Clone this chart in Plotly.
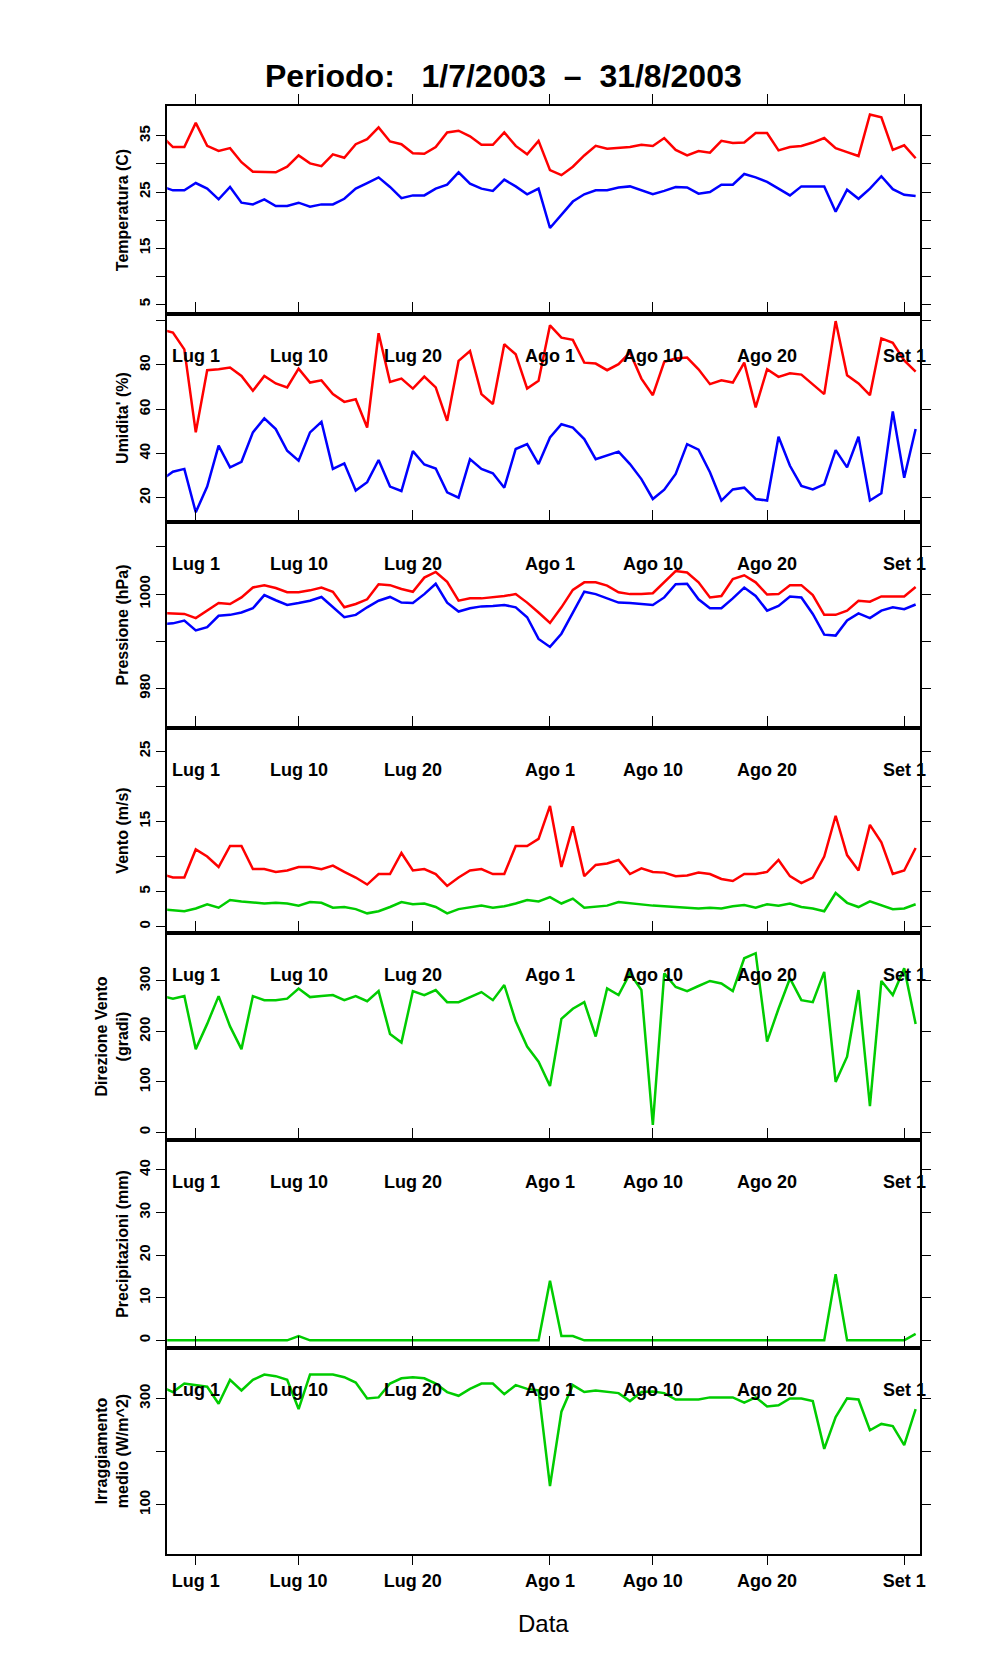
import pandas as pd
import plotly.graph_objects as go

dates = pd.date_range("2003-06-28", "2003-09-02", freq="D")

# temperatura (C): massima e minima
t_max = [35, 33, 33,
         37.3, 33.2, 32.3, 32.8, 30.3, 28.6, 28.5, 28.5, 29.5, 31.5, 30.1, 29.6, 31.7, 31.1, 33.5, 34.4,
         36.5, 34, 33.5, 31.9, 31.8, 33, 35.6, 35.9, 34.9, 33.4, 33.4, 35.6, 33.2, 31.7, 34.1,
         28.9, 28, 29.5, 31.5, 33.2, 32.7, 32.8, 33, 33.4, 33.2, 34.6, 32.5, 31.5, 32.3, 32, 34.1,
         33.7, 33.8, 35.5, 35.5, 32.4, 33, 33.2, 33.8, 34.6, 32.8, 32.1, 31.4, 38.8, 38.3, 32.5,
         33.3, 31]
t_min = [26, 25.3, 25.3,
         26.6, 25.6, 23.7, 25.9, 23.1, 22.8, 23.7, 22.5, 22.5, 23.1, 22.4, 22.8, 22.8, 23.8, 25.6, 26.6,
         27.6, 25.9, 23.9, 24.4, 24.4, 25.6, 26.3, 28.5, 26.5, 25.6, 25.2, 27.2, 26, 24.6, 25.6,
         18.6, 20.9, 23.3, 24.6, 25.3, 25.3, 25.8, 26, 25.3, 24.6, 25.2, 25.9, 25.8, 24.7, 25, 26.3,
         26.3, 28.2, 27.6, 26.8, 25.6, 24.4, 26, 26, 26, 21.5, 25.4, 23.8, 25.6, 27.8, 25.5,
         24.5, 24.3]

# umidita' (%)
h_max = [96, 94.6, 87,
         49.5, 77.6, 78, 78.8, 75, 68.3, 75, 71.6, 69.8, 78.3, 72, 73, 66.8, 63.3, 64.5, 51.7,
         94.3, 72.3, 73.8, 69.3, 74.7, 69.8, 54.7, 81.8, 86.3, 66.8, 62.3, 89.3, 84.8, 69.3, 72.8,
         97.9, 92.3, 91.3, 81, 80.6, 77.6, 80.3, 85.6, 73.8, 66.3, 81.4, 82.9, 83.3, 78, 71.3, 73,
         72, 81, 60.8, 78, 74.6, 76.2, 75.6, 71.3, 66.8, 99.8, 75.3, 71.6, 66.3, 92, 90,
         82, 77]
h_min = [28, 31.7, 33,
         13.4, 25, 43.5, 33.7, 36.2, 49.5, 55.8, 51, 41.2, 36.7, 49.5, 54.3, 33, 35.5, 23.2, 27,
         37, 25, 23, 41, 35, 33.2, 22.4, 20, 37.4, 33, 31, 24.5, 42, 44.2, 35.2,
         47.2, 53.2, 51.7, 46.5, 37.4, 39.2, 40.8, 35.2, 28.4, 19.4, 23.6, 30.7, 44.2, 41.7, 31.5, 18.7,
         23.7, 24.5, 19.4, 18.7, 47.5, 34.4, 25.3, 23.7, 26, 41.5, 33.7, 47.5, 18.7, 22, 59,
         29, 51]

# pressione (hPa)
p_max = [996, 995.9, 995.8,
         994.9, 996.5, 998.1, 997.9, 999.3, 1001.4, 1001.9, 1001.3, 1000.4, 1000.4, 1000.8, 1001.4, 1000.5, 997.2, 997.9, 998.9,
         1002.1, 1001.9, 1001.1, 1000.5, 1003.5, 1004.7, 1002.6, 998.6, 999.1, 999.1, 999.3, 999.6, 1000, 998.2, 996.1,
         993.9, 997.2, 1000.9, 1002.5, 1002.5, 1001.8, 1000.4, 1000, 1000, 1000.2, 1002.5, 1004.9, 1004.6, 1002.5, 999.3, 999.6,
         1003.2, 1004, 1002.5, 999.9, 1000, 1001.9, 1001.9, 999.8, 995.6, 995.6, 996.5, 998.6, 998.4, 999.5, 999.5,
         999.5, 1001.5]
p_min = [993.6, 993.8, 994.4,
         992.3, 993, 995.4, 995.6, 996.1, 997, 999.8, 998.7, 997.7, 998.1, 998.6, 999.4, 997.2, 995.1, 995.6, 997.2,
         998.6, 999.4, 998.2, 998.1, 1000, 1002.2, 998.2, 996.3, 997, 997.4, 997.5, 997.7, 997.2, 995.1, 990.5,
         988.8, 991.6, 996.1, 1000.5, 1000, 999.1, 998.2, 998.1, 997.9, 997.7, 999.3, 1002.1, 1002.2, 998.9, 997, 997,
         999.1, 1001.4, 999.6, 996.5, 997.5, 999.5, 999.3, 995.8, 991.4, 991.2, 994.4, 995.9, 994.9, 996.5, 997.2,
         996.8, 997.8]

# vento (m/s): raffica massima e media
v_max = [7.5, 7, 7,
         11, 10, 8.5, 11.5, 11.5, 8.2, 8.2, 7.8, 8, 8.5, 8.5, 8.2, 8.7, 7.8, 7, 6,
         7.5, 7.5, 10.5, 8, 8.2, 7.5, 5.8, 7, 8, 8.2, 7.5, 7.5, 11.5, 11.5, 12.5,
         17.2, 8.5, 14.3, 7.2, 8.8, 9, 9.5, 7.5, 8.3, 7.8, 7.7, 7.2, 7.3, 7.7, 7.5, 6.8,
         6.5, 7.5, 7.5, 7.8, 9.5, 7.2, 6.2, 7, 10, 15.8, 10.2, 8, 14.5, 12, 7.5,
         8, 11.2]
v_med = [2.5, 2.3, 2.2,
         2.6, 3.2, 2.7, 3.8, 3.6, 3.4, 3.3, 3.4, 3.3, 3.0, 3.5, 3.4, 2.7, 2.8, 2.5, 1.9,
         2.2, 2.8, 3.5, 3.2, 3.3, 2.8, 1.9, 2.5, 2.7, 3.0, 2.7, 2.9, 3.3, 3.8, 3.6,
         4.2, 3.3, 4.0, 2.7, 2.9, 3.0, 3.5, 3.3, 3.2, 3.0, 2.9, 2.8, 2.6, 2.6, 2.7, 2.6,
         2.9, 3.1, 2.7, 3.2, 3.0, 3.3, 2.8, 2.6, 2.2, 4.8, 3.4, 2.8, 3.6, 3.0, 2.5,
         2.6, 3.2]

# direzione vento (gradi)
dir_v = [270, 265, 270,
         165, 215, 270, 210, 165, 270, 262, 262, 265, 285, 268, 270, 272, 262, 270, 260,
         280, 195, 178, 280, 272, 282, 258, 258, 268, 278, 262, 292, 220, 170, 140,
         92, 225, 245, 258, 190, 285, 272, 315, 282, 15, 315, 288, 280, 290, 300, 295,
         280, 345, 355, 180, 245, 305, 262, 258, 318, 100, 150, 282, 52, 300, 272,
         325, 215]

# precipitazioni (mm)
prec = [0, 0, 0,
        0, 0, 0, 0, 0, 0, 0, 0, 0, 1, 0, 0, 0, 0, 0, 0,
        0, 0, 0, 0, 0, 0, 0, 0, 0, 0, 0, 0, 0, 0, 0,
        14, 1, 1, 0, 0, 0, 0, 0, 0, 0, 0, 0, 0, 0, 0, 0,
        0, 0, 0, 0, 0, 0, 0, 0, 0, 15.5, 0, 0, 0, 0, 0,
        0, 1.5]

# irraggiamento medio (W/m^2)
irr = [322, 312, 328,
       325, 322, 290, 335, 315, 335, 345, 342, 335, 280, 345, 345, 345, 340, 330, 300,
       302, 328, 338, 340, 338, 328, 312, 305, 318, 328, 328, 308, 325, 318, 315,
       135, 275, 325, 312, 315, 313, 310, 295, 312, 313, 310, 298, 298, 298, 302, 302,
       302, 292, 302, 285, 287, 300, 300, 295, 205, 265, 300, 298, 240, 252, 248,
       212, 280]

tick_dates = ["2003-07-01", "2003-07-10", "2003-07-20", "2003-08-01",
              "2003-08-10", "2003-08-20", "2003-09-01"]
tick_labels = ["Lug 1", "Lug 10", "Lug 20", "Ago 1", "Ago 10", "Ago 20", "Set 1"]

RED, BLUE, GREEN = "#ff0000", "#0000ff", "#00cc00"
W, H = 996, 1680
bounds = [98, 306, 514, 720, 925, 1132, 1340, 1546]
x_dom = [160 / W, 917 / W]
x_range = ["2003-06-28 12:00", "2003-09-02 10:00"]
lab_font = dict(family="Liberation Sans Narrow, Liberation Sans, Arial", size=18, color="black")

panels = [
    dict(series=[(t_max, RED), (t_min, BLUE)], title="<b>Temperatura (C)</b>", rng=[3.3, 40.3],
         vals=[5, 10, 15, 20, 25, 30, 35], text=["5", "", "15", "", "25", "", "35"], top_labels=False),
    dict(series=[(h_max, RED), (h_min, BLUE)], title="<b>Umidita' (%)</b>", rng=[9, 103],
         vals=[20, 40, 60, 80, 100], text=["20", "40", "60", "80", ""]),
    dict(series=[(p_max, RED), (p_min, BLUE)], title="<b>Pressione (hPa)</b>", rng=[971.6, 1015.3],
         vals=[980, 990, 1000, 1010], text=["980", "", "1000", ""]),
    dict(series=[(v_max, RED), (v_med, GREEN)], title="<b>Vento (m/s)</b>", rng=[-0.9, 28.3],
         vals=[0, 5, 10, 15, 20, 25], text=["0", "5", "", "15", "", "25"]),
    dict(series=[(dir_v, GREEN)], title="<b>Direzione Vento<br>(gradi)</b>", rng=[-15, 395],
         vals=[0, 100, 200, 300], text=["0", "100", "200", "300"]),
    dict(series=[(prec, GREEN)], title="<b>Precipitazioni (mm)</b>", rng=[-1.8, 47],
         vals=[0, 10, 20, 30, 40], text=["0", "10", "20", "30", "40"]),
    dict(series=[(irr, GREEN)], title="<b>Irraggiamento<br>medio (W/m^2)</b>", rng=[7, 395],
         vals=[100, 200, 300], text=["100", "", "300"]),
]

fig = go.Figure()
layout = {}
annotations = []
for i, p in enumerate(panels):
    n = i + 1
    sfx = "" if n == 1 else str(n)
    for vals, col in p["series"]:
        fig.add_trace(go.Scatter(x=dates, y=vals, mode="lines", line=dict(color=col, width=2.5),
                                 xaxis="x" + sfx, yaxis="y" + sfx, showlegend=False))
    top, bot = bounds[i], bounds[i + 1]
    layout["xaxis" + sfx] = dict(
        domain=x_dom, anchor="y" + sfx, side="top", range=x_range, type="date",
        tickvals=tick_dates, showticklabels=False,
        ticks="outside", ticklen=10, tickcolor="black", tickwidth=1,
        showline=True, linecolor="black", linewidth=1.5, mirror=True,
        showgrid=False, zeroline=False)
    layout["yaxis" + sfx] = dict(
        domain=[1 - bot / H, 1 - top / H], anchor="x" + sfx, range=p["rng"],
        tickvals=p["vals"], ticktext=["<b>%s</b>" % t if t else "" for t in p["text"]],
        tickangle=-90, ticks="outside", ticklen=9, tickcolor="black",
        tickfont=dict(family="Liberation Sans, Arial", size=15, color="black"),
        showline=True, linecolor="black", linewidth=1.5, mirror="ticks",
        showgrid=False, zeroline=False,
        title=dict(text=p["title"], standoff=4,
                   font=dict(family="Liberation Sans, Arial", size=16, color="black")))
    if p.get("top_labels", True):
        for d, t in zip(tick_dates, tick_labels):
            annotations.append(dict(
                text="<b>%s</b>" % t, x=d, xref="x" + sfx, y=1, yref="y%s domain" % sfx,
                yshift=-30, showarrow=False, font=lab_font))

# asse delle date in basso
layout["xaxis8"] = dict(
    domain=x_dom, anchor="y7", overlaying="x7", side="bottom", range=x_range, type="date",
    tickvals=tick_dates, ticktext=["<b>%s</b>" % t for t in tick_labels],
    ticks="outside", ticklen=10, tickcolor="black", tickfont=lab_font, showgrid=False,
    zeroline=False, showline=False)
fig.add_trace(go.Scatter(x=[dates[0]], y=[None], xaxis="x8", yaxis="y7", showlegend=False))

annotations += [
    dict(text="<b>Periodo:   1/7/2003  \u2013  31/8/2003</b>", x=0.5, y=1 - 48 / H,
         xref="paper", yref="paper", showarrow=False,
         font=dict(family="Liberation Sans, Arial", size=32, color="black")),
    dict(text="Data", x=(x_dom[0] + x_dom[1]) / 2, y=1 - 1631 / H, xref="paper", yref="paper",
         showarrow=False, font=dict(family="Liberation Sans, Arial", size=24, color="black")),
]

fig.update_layout(
    **layout,
    width=W, height=H, margin=dict(l=0, r=0, t=0, b=0),
    paper_bgcolor="white", plot_bgcolor="white",
    annotations=annotations,
)

fig.write_html("out.html")
